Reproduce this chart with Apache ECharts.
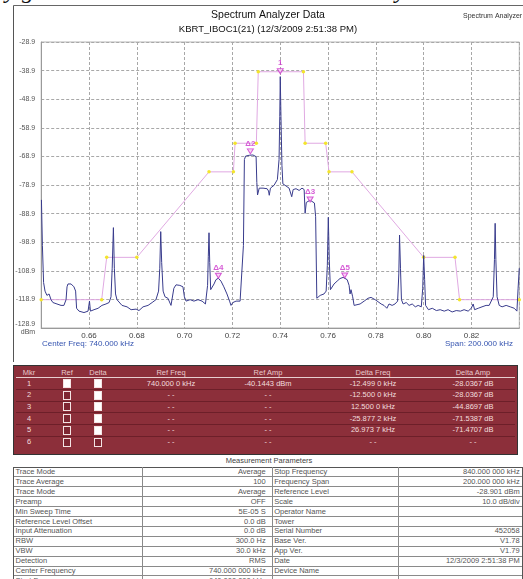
<!DOCTYPE html>
<html>
<head>
<meta charset="utf-8">
<script src="https://cdn.jsdelivr.net/npm/echarts@6/dist/echarts.min.js"></script>
<style>
  html,body{margin:0;padding:0;background:#fff;}
  body{width:523px;height:579px;overflow:hidden;position:relative;font-family:"Liberation Sans",Arial,sans-serif;}
  .abs{position:absolute;white-space:nowrap;}
</style>
</head>
<body>
<div class="abs" id="topText" style="left:-12px;top:-23px;font:italic 24px 'Liberation Serif',serif;color:#111;">my guess is that this would be the case only when</div>
<div id="chart" style="position:absolute;left:0;top:0;width:523px;height:362px;"></div>
<div id="mkr" style="position:absolute;left:13px;top:365px;width:503px;height:88px;background:#8c2f3a;border:1px solid #333;"></div>
<div id="params" style="position:absolute;left:0;top:455px;width:523px;height:124px;"></div>
<script>
// ---------- data ----------
const freqTicks = [0.64,0.66,0.68,0.70,0.72,0.74,0.76,0.78,0.80,0.82,0.84];
const ampTicks = [-128.9,-118.9,-108.9,-98.9,-88.9,-78.9,-68.9,-58.9,-48.9,-38.9,-28.9];

const traceFreq = [
0.6401,0.6405,0.6410,0.6416,0.6424,0.6433,0.6441,0.6449,0.6466,0.6483,
0.6495,0.6504,0.6508,0.6512,0.6525,0.6537,0.6544,0.6548,0.6558,0.6579,
0.6596,0.6602,0.6606,0.6621,0.6638,0.6654,0.6671,0.6684,0.6692,0.6697,
0.6702,0.6706,0.6711,0.6717,0.6723,0.6738,0.6759,0.6776,0.6797,0.6809,
0.6826,0.6847,0.6864,0.6880,0.6891,0.6896,0.6900,0.6904,0.6910,0.6918,
0.6930,0.6943,0.6951,0.6955,0.6964,0.6980,0.6993,0.6999,0.7006,0.7023,
0.7039,0.7056,0.7073,0.7087,0.7096,0.7099,0.7102,0.7105,0.7109,0.7114,
0.7123,0.7131,0.7141,0.7152,0.7164,0.7177,0.7188,0.7194,0.7202,0.7215,
0.7232,0.7240,0.7246,0.7250,0.7255,0.7261,0.7270,0.7278,0.7286,0.7292,
0.7299,0.7302,0.7305,0.7312,0.7320,0.7328,0.7336,0.7345,0.7351,0.7354,
0.7359,0.7366,0.7374,0.7382,0.7388,0.7395,0.7398,0.7400,0.7403,0.7407,
0.7411,0.7420,0.7428,0.7437,0.7443,0.7448,0.7454,0.7466,0.7479,0.7491,
0.7500,0.7504,0.7509,0.7516,0.7525,0.7533,0.7543,0.7548,0.7553,0.7558,
0.7567,0.7575,0.7583,0.7592,0.7597,0.7601,0.7605,0.7610,0.7617,0.7625,
0.7638,0.7650,0.7663,0.7671,0.7680,0.7688,0.7692,0.7696,0.7703,0.7709,
0.7717,0.7734,0.7751,0.7767,0.7780,0.7797,0.7809,0.7822,0.7834,0.7846,
0.7855,0.7868,0.7880,0.7891,0.7896,0.7899,0.7903,0.7907,0.7914,0.7927,
0.7939,0.7952,0.7965,0.7977,0.7990,0.7996,0.8000,0.8004,0.8008,0.8020,
0.8036,0.8053,0.8069,0.8086,0.8102,0.8119,0.8136,0.8154,0.8169,0.8186,
0.8199,0.8207,0.8213,0.8228,0.8244,0.8261,0.8274,0.8282,0.8291,0.8296,
0.8299,0.8302,0.8307,0.8316,0.8328,0.8345,0.8362,0.8379,0.8390,0.8395,
0.8400];
const traceAmp = [
-84.1,-100,-113,-116,-117.5,-117,-119,-120,-120.5,-121,
-121,-119,-114.5,-113.5,-113.5,-114.5,-116,-122,-123,-123.5,
-123,-119.5,-123,-122.5,-122,-121,-120.5,-120,-118,-108,
-93.8,-108,-117,-119,-119.5,-121,-121.5,-122.5,-122.3,-122.8,
-121.5,-121,-120,-119,-116,-108,-95.2,-106,-116,-118,
-118.5,-121,-121,-115,-113.8,-114,-114.5,-118,-119.5,-119,
-119.5,-119,-119.5,-120.5,-114,-104,-95.6,-106,-115.5,-116,
-113.5,-112,-111.5,-112.5,-114.5,-117,-119.5,-121,-120,-119.5,
-119.5,-119,-100,-70,-68.8,-68.2,-68.5,-68.0,-68.4,-67.8,
-69,-78,-82.4,-80,-80.5,-80,-80.5,-80.2,-81,-82.5,
-80,-79.5,-79,-79.3,-77,-70,-55,-41,-55,-72,
-78.5,-79,-78.5,-80,-79.5,-83,-80.5,-80.2,-80.8,-80,
-80.5,-88.8,-85,-84.7,-84.2,-84.5,-85.2,-90,-118.5,-118,
-117.5,-117.8,-117,-116,-107,-90.2,-105,-115.5,-115,-113.5,
-112.5,-111.6,-111.2,-111.0,-112,-114,-117,-115.5,-118,-121,
-121.5,-120.5,-119.5,-118.5,-118.2,-119,-119.7,-120.5,-121,-122,
-120.5,-121,-120.5,-119.5,-110,-96.4,-108,-119,-120.5,-120,
-121,-120.5,-121.5,-121,-121.5,-115,-103.5,-112,-121,-122.5,
-122,-122.8,-122.5,-123,-122.5,-123.3,-122.8,-123,-122.5,-123,
-122,-120.5,-122.5,-122,-121.5,-121,-121,-121.5,-118,-105,
-92.3,-105,-118,-121,-121.5,-121,-121.5,-122,-123,-115,
-108];

const maskFreq = [0.64,0.6653,0.6674,0.68,0.7102,0.7204,0.7211,0.7300,0.7308,0.7497,0.7504,0.7590,0.7604,0.7700,0.8000,0.8131,0.8150,0.84];
const maskAmp  = [-119,-119,-104.2,-104.2,-74.3,-74.3,-64.3,-64.3,-39.3,-39.3,-64.3,-64.3,-74.3,-74.3,-104.2,-104.2,-119,-119];

const markerNames = ['1','\u03942','\u03943','\u03944','\u03945'];
const markerFreq = [0.74,0.7275,0.7525,0.714123,0.766974];
const markerAmp  = [-40.1443,-68.181,-85.014,-111.683,-111.615];

const titleText = 'Spectrum Analyzer Data';
const subtitleText = 'KBRT_IBOC1(21) (12/3/2009 2:51:38 PM)';
const cornerText = 'Spectrum Analyzer Data';
const centerText = 'Center Freq: 740.000 kHz';
const spanText = 'Span: 200.000 kHz';
const yUnit = 'dBm';

const mkrHeaders = ['Mkr','Ref','Delta','Ref Freq','Ref Amp','Delta Freq','Delta Amp'];
const mkrNums = ['1','2','3','4','5','6'];
const mkrRefOn = [true,false,false,false,false,false];
const mkrDeltaOn = [true,true,true,true,true,false];
const mkrRefFreq = ['740.000 0 kHz','- -','- -','- -','- -','- -'];
const mkrRefAmp = ['-40.1443 dBm','- -','- -','- -','- -','- -'];
const mkrDeltaFreq = ['-12.499 0 kHz','-12.500 0 kHz','12.500 0 kHz','-25.877 2 kHz','26.973 7 kHz','- -'];
const mkrDeltaAmp = ['-28.0367 dB','-28.0367 dB','-44.8697 dB','-71.5387 dB','-71.4707 dB','- -'];

const paramTitle = 'Measurement Parameters';
const paramNamesL = ['Trace Mode','Trace Average','Trace Mode','Preamp','Min Sweep Time','Reference Level Offset','Input Attenuation','RBW','VBW','Detection','Center Frequency','Start Frequency'];
const paramValsL = ['Average','100','Average','OFF','5E-05 S','0.0 dB','0.0 dB','300.0 Hz','30.0 kHz','RMS','740.000 000 kHz','640.000 000 kHz'];
const paramNamesR = ['Stop Frequency','Frequency Span','Reference Level','Scale','Operator Name','Tower','Serial Number','Base Ver.','App Ver.','Date','Device Name',''];
const paramValsR = ['840.000 000 kHz','200.000 000 kHz','-28.901  dBm','10.0  dB/div','','','452058','V1.78','V1.79','12/3/2009 2:51:38 PM','',''];

// ---------- chart ----------
const chart = echarts.init(document.getElementById('chart'), null, {renderer:'canvas'});
const FONT = '"Liberation Sans", Arial, sans-serif';
const tracePts = traceFreq.map((f,i)=>[f, traceAmp[i]]);
const maskPts = maskFreq.map((f,i)=>[f, maskAmp[i]]);
const mkPts = markerFreq.map((f,i)=>({name:markerNames[i], value:[f, markerAmp[i]]}));

chart.setOption({
  animation:false,
  backgroundColor:'transparent',
  textStyle:{fontFamily:FONT},
  grid:{left:41.2, right:3.7, top:42, bottom:34, show:true, borderColor:'#b5b5b5', borderWidth:1},
  xAxis:{
    type:'value', min:freqTicks[0], max:freqTicks[freqTicks.length-1], interval:0.02,
    axisLine:{show:true, lineStyle:{color:'#9a9a9a'}},
    axisTick:{show:false},
    axisLabel:{show:true, showMinLabel:false, showMaxLabel:false, color:'#444', fontSize:8, margin:4, fontFamily:FONT,
      formatter:v=>v.toFixed(2)},
    splitLine:{show:true, lineStyle:{color:'#a8a8a8', type:[3,2], width:1}}
  },
  yAxis:{
    type:'value', min:ampTicks[0], max:ampTicks[ampTicks.length-1], interval:10,
    axisLine:{show:true, lineStyle:{color:'#9a9a9a'}},
    axisTick:{show:false},
    axisLabel:{color:'#555', fontSize:7, margin:6, fontFamily:FONT, lineHeight:8,
      formatter:v=>{ const s=(Math.round(v*10)/10).toFixed(1); return Math.abs(v-ampTicks[0])<0.01 ? s+'\n'+yUnit : s; }},
    splitLine:{show:true, lineStyle:{color:'#a8a8a8', type:[3,2], width:1}}
  },
  series:[
    {type:'line', data:maskPts, symbol:'circle', symbolSize:3.5, showSymbol:true,
     lineStyle:{color:'#e0a9e2', width:1}, itemStyle:{color:'#f3e52c', borderWidth:0}, z:2, silent:true},
    {type:'line', data:tracePts, showSymbol:false, symbol:'none',
     lineStyle:{color:'#383b8c', width:1}, z:3, silent:true},
    {type:'scatter', data:mkPts, symbol:'path://M0,0 L10,0 L5,8 Z', symbolSize:[6,5], symbolOffset:[0,-3],
     itemStyle:{color:'#f6c8f3', borderColor:'#cc33cc', borderWidth:1}, z:5, silent:true,
     label:{show:true, position:'top', distance:1, formatter:p=>p.name, color:'#cc33cc', fontSize:8, fontWeight:'bold', fontFamily:FONT}}
  ],
  graphic:[
    {type:'line', shape:{x1:13.5,y1:5.5,x2:523,y2:5.5}, style:{stroke:'#666', lineWidth:1}, silent:true},
    {type:'line', shape:{x1:13.5,y1:5.5,x2:13.5,y2:365}, style:{stroke:'#555', lineWidth:1}, silent:true},
    {type:'text', x:268, y:15, style:{text:titleText, fill:'#111', font:'10.5px '+FONT, textAlign:'center', textVerticalAlign:'middle'}},
    {type:'text', x:268, y:29, style:{text:subtitleText, fill:'#111', font:'9.5px '+FONT, textAlign:'center', textVerticalAlign:'middle'}},
    {type:'text', x:463, y:16.5, style:{text:cornerText, fill:'#333', font:'7px '+FONT, textAlign:'left', textVerticalAlign:'middle'}},
    {type:'text', x:42, y:343.5, style:{text:centerText, fill:'#3554b0', font:'8px '+FONT, textAlign:'left', textVerticalAlign:'middle'}},
    {type:'text', x:513, y:343.5, style:{text:spanText, fill:'#3554b0', font:'8px '+FONT, textAlign:'right', textVerticalAlign:'middle'}}
  ]
});

// ---------- marker table ----------
const mkr = document.getElementById('mkr');
const colX = [15, 53, 84, 157, 254, 359, 459]; // centers relative to box
function addText(parent, txt, cx, cy, color, size){
  const d=document.createElement('div'); d.className='abs';
  d.style.cssText += `left:${cx-60}px;width:120px;text-align:center;top:${cy-5}px;height:10px;line-height:10px;font-size:${size}px;color:${color};`;
  d.textContent=txt; parent.appendChild(d);
}
mkrHeaders.forEach((h,i)=>addText(mkr,h,colX[i],6.5,'#e9c9cb',7.5));
let ln=document.createElement('div'); ln.className='abs';
ln.style.cssText+='left:2px;width:499px;top:11px;height:1px;background:#e8cfd0;'; mkr.appendChild(ln);
for(let r=0;r<6;r++){
  const cy = 17.5 + r*11.7;
  if(r>0){ const s=document.createElement('div'); s.className='abs';
    s.style.cssText+=`left:2px;width:499px;top:${cy-6.3}px;height:1px;background:#6d1f29;`; mkr.appendChild(s); }
  addText(mkr,mkrNums[r],colX[0],cy,'#f2dede',7.5);
  [[mkrRefOn[r],colX[1]],[mkrDeltaOn[r],colX[2]]].forEach(([on,cx])=>{
    const b=document.createElement('div'); b.className='abs';
    b.style.cssText+=`left:${cx-4}px;top:${cy-4.5}px;width:6px;height:7px;border:1px solid #f4e4e4;background:${on?'#ffffff':'#7e2632'};`;
    mkr.appendChild(b);
  });
  addText(mkr,mkrRefFreq[r],colX[3],cy,'#f2dede',7.5);
  addText(mkr,mkrRefAmp[r],colX[4],cy,'#f2dede',7.5);
  addText(mkr,mkrDeltaFreq[r],colX[5],cy,'#f2dede',7.5);
  addText(mkr,mkrDeltaAmp[r],colX[6],cy,'#f2dede',7.5);
}

// ---------- parameters table ----------
const P = document.getElementById('params');
const t=document.createElement('div'); t.className='abs';
t.style.cssText+='left:169px;width:200px;text-align:center;top:1px;height:10px;line-height:10px;font-size:7.5px;color:#444;';
t.textContent=paramTitle; P.appendChild(t);
const colB=[13,141.7,271.7,398.3,521.7];
const top0=11.5, rh=9.9;
function hline(y,x1,x2,c){const d=document.createElement('div');d.className='abs';d.style.cssText+=`left:${x1}px;width:${x2-x1}px;top:${y}px;height:1px;background:${c};`;P.appendChild(d);}
function vline(x,y1,y2,c){const d=document.createElement('div');d.className='abs';d.style.cssText+=`left:${x}px;width:1px;top:${y1}px;height:${y2-y1}px;background:${c};`;P.appendChild(d);}
for(let r=0;r<=12;r++) hline(top0+r*rh, colB[0], colB[4], r===0?'#555':'#8a8a8a');
colB.forEach((x,i)=>vline(x, top0, 130, (i===0||i===4)?'#555':'#8a8a8a'));
function cell(txt,x1,x2,r,align){
  const d=document.createElement('div'); d.className='abs';
  const pad = align==='right' ? (x2>500?2:6) : 2.5;
  d.style.cssText+=`left:${x1+(align==='left'?pad:0)}px;width:${x2-x1-pad}px;text-align:${align};top:${top0+r*rh+0.5}px;height:${rh}px;line-height:${rh}px;font-size:7.5px;color:#555;`;
  d.textContent=txt; P.appendChild(d);
}
for(let r=0;r<paramNamesL.length;r++){
  cell(paramNamesL[r],colB[0],colB[1],r,'left');
  cell(paramValsL[r],colB[1],colB[2],r,'right');
  cell(paramNamesR[r],colB[2],colB[3],r,'left');
  cell(paramValsR[r],colB[3],colB[4],r,'right');
}
</script>
</body>
</html>
